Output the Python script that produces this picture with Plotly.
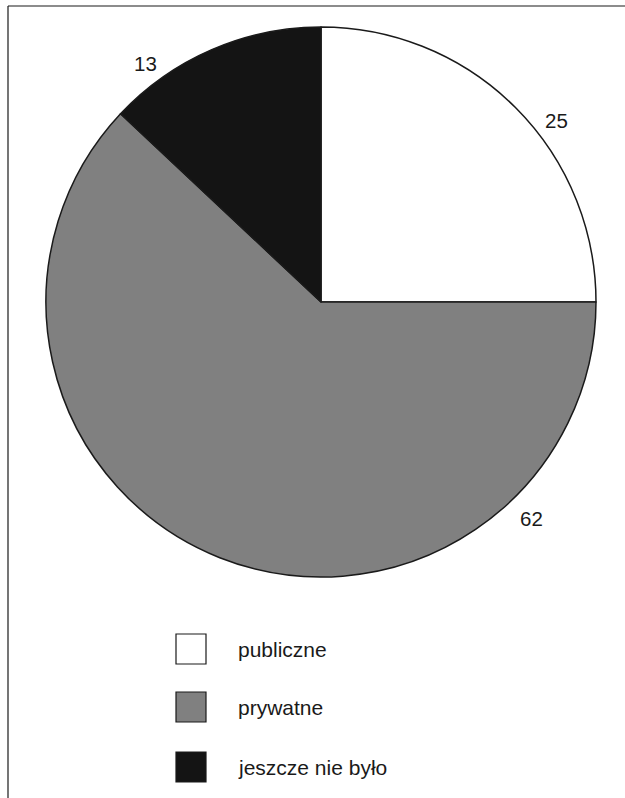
import plotly.graph_objects as go

# Data
categories = ["publiczne", "prywatne", "jeszcze nie było"]
values = [25, 62, 13]
colors = ["#ffffff", "#808080", "#141414"]

W, H = 625, 798
cx, cy, r = 321, 302, 275

fig = go.Figure(go.Pie(
    labels=categories,
    values=values,
    sort=False,
    direction="clockwise",
    rotation=0,
    textinfo="none",
    hoverinfo="label+value",
    marker=dict(colors=colors, line=dict(color="#1a1a1a", width=1.5)),
    domain=dict(x=[(cx - r) / W, (cx + r) / W], y=[1 - (cy + r) / H, 1 - (cy - r) / H]),
    showlegend=False,
))

def px(x):
    return x / W

def py(y):
    return 1 - y / H

label_font = dict(family="Liberation Sans, Arial, sans-serif", size=20.5, color="#1a1a1a")
legend_font = dict(family="Liberation Sans, Arial, sans-serif", size=21, color="#1a1a1a")

# Value labels around the pie
label_pos = [(556, 120), (531, 518), (145.5, 63)]
annotations = []
for v, (lx, ly) in zip(values, label_pos):
    annotations.append(dict(x=px(lx), y=py(ly), xref="paper", yref="paper",
                            text=str(v), showarrow=False, font=label_font,
                            xanchor="center", yanchor="middle"))

# Legend: boxes and captions
shapes = []
legend_rows = [649, 707, 767]
for cat, col, ry in zip(categories, colors, legend_rows):
    shapes.append(dict(type="rect", xref="paper", yref="paper",
                       x0=px(176), x1=px(206), y0=py(ry + 15), y1=py(ry - 15),
                       fillcolor=col, line=dict(color="#1a1a1a", width=1.2)))
    annotations.append(dict(x=px(236), y=py(ry), xref="paper", yref="paper",
                            text=cat, showarrow=False, font=legend_font,
                            xanchor="left", yanchor="middle"))

# Frame lines on the left and top
shapes.append(dict(type="line", xref="paper", yref="paper",
                   x0=px(8), x1=px(8), y0=0, y1=py(6),
                   line=dict(color="#1a1a1a", width=1.2)))
shapes.append(dict(type="line", xref="paper", yref="paper",
                   x0=px(8), x1=1, y0=py(6), y1=py(6),
                   line=dict(color="#1a1a1a", width=1.2)))

fig.update_layout(
    width=W, height=H,
    margin=dict(l=0, r=0, t=0, b=0),
    paper_bgcolor="#ffffff",
    plot_bgcolor="#ffffff",
    shapes=shapes,
    annotations=annotations,
)

fig.write_html("out.html")
